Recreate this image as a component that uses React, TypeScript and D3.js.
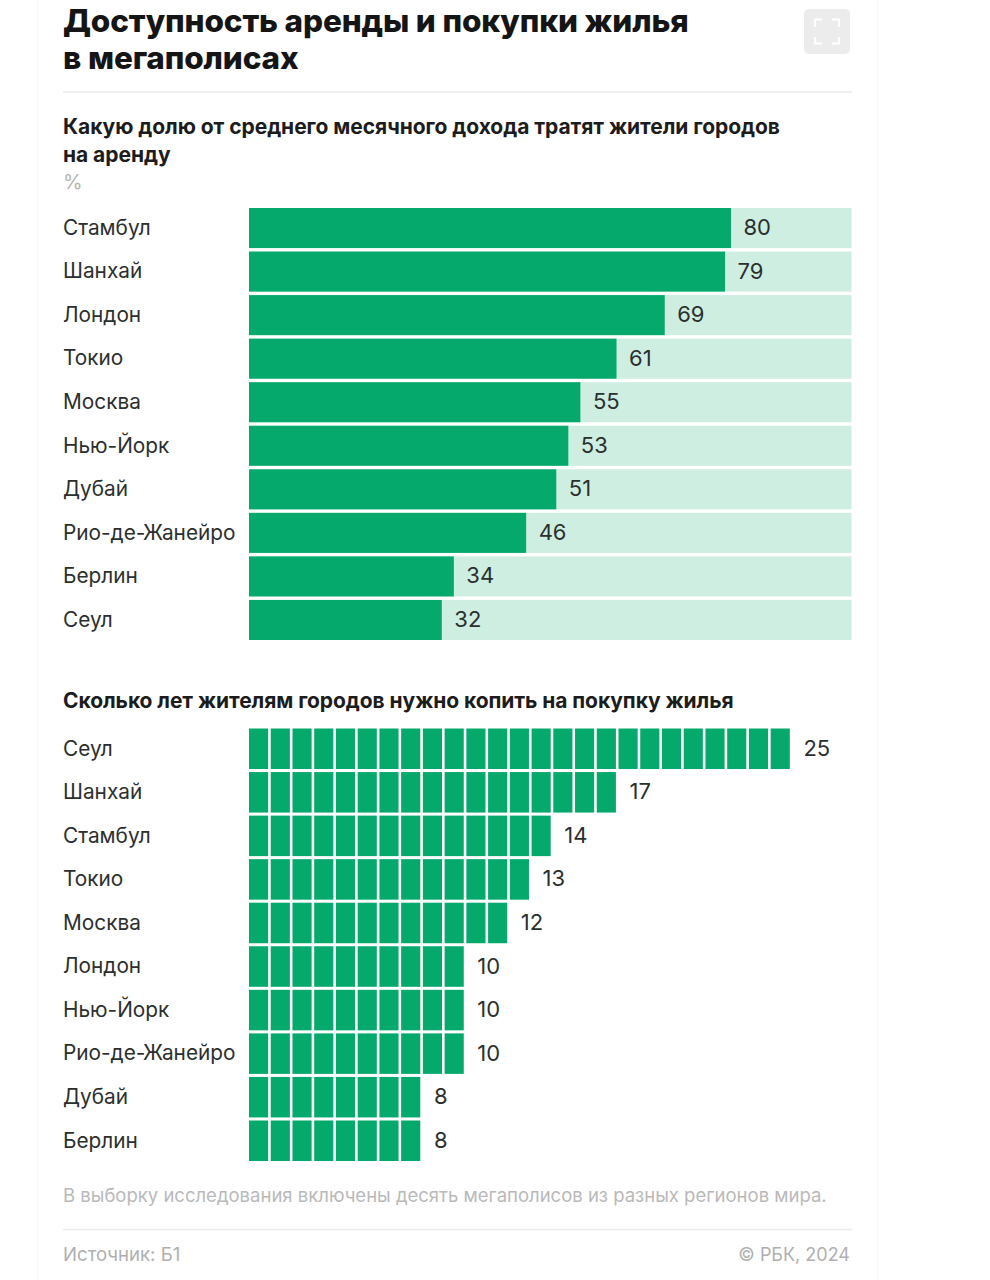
import React from "react";
import * as d3 from "d3";

const rentCities = ["Стамбул", "Шанхай", "Лондон", "Токио", "Москва", "Нью-Йорк", "Дубай", "Рио-де-Жанейро", "Берлин", "Сеул"];
const rentValues = [80, 79, 69, 61, 55, 53, 51, 46, 34, 32];
const saveCities = ["Сеул", "Шанхай", "Стамбул", "Токио", "Москва", "Лондон", "Нью-Йорк", "Рио-де-Жанейро", "Дубай", "Берлин"];
const saveValues = [25, 17, 14, 13, 12, 10, 10, 10, 8, 8];

const FONT = "Inter, 'Noto Sans', sans-serif";
const GREEN = "#04a96b";
const PALE = "#cdeee1";
const INK = "#2b2f2e";

export default function App() {
  const xRent = d3.scaleLinear().domain([0, 100]).range([249, 851.5]);
  const yRent = d3.scaleBand<string>().domain(rentCities).range([208, 640]).paddingInner(0.08);
  const xSave = d3.scaleLinear().domain([0, 25]).range([249, 792.4]);
  const ySave = d3.scaleBand<string>().domain(saveCities).range([728.5, 1161]).paddingInner(0.07);
  const cellW = xSave(1) - xSave(0) - 2.6;

  return (
    <svg width={990} height={1280} style={{ position: "absolute", left: 0, top: 0, background: "#fff" }} fontFamily={FONT}>
      <line x1={38} x2={38} y1={0} y2={1280} stroke="#f6f6f6" />
      <line x1={878} x2={878} y1={0} y2={1280} stroke="#f4f4f4" />

      <text x={63} y={32} fontSize={31.5} fontWeight={800} letterSpacing={-0.15} fill="#151515">Доступность аренды и покупки жилья</text>
      <text x={63} y={69} fontSize={31.5} fontWeight={800} letterSpacing={-0.15} fill="#151515">в мегаполисах</text>
      <rect x={804} y={9} width={46} height={45} rx={5} fill="#ececec" />
      <path d="M815,27V19.5H822M832,19.5H839V27M839,37V43.5H832M822,43.5H815V37" fill="none" stroke="#fff" strokeWidth={2} />
      <line x1={63} x2={852} y1={92} y2={92} stroke="#ebebeb" strokeWidth={1.5} />

      <text x={63} y={134} fontSize={21} fontWeight={700} letterSpacing={-0.05} fill="#1c1c1c">Какую долю от среднего месячного дохода тратят жители городов</text>
      <text x={63} y={162} fontSize={21} fontWeight={700} letterSpacing={-0.05} fill="#1c1c1c">на аренду</text>
      <text x={63} y={189} fontSize={20} fill="#b5b5b5">%</text>

      {rentCities.map((c, i) => {
        const y = yRent(c)!;
        const h = yRent.bandwidth();
        return (
          <g key={c}>
            <text x={63} y={y + h / 2 + 6.8} fontSize={20.8} fill={INK}>{c}</text>
            <rect x={xRent(0)} y={y} width={xRent(100) - xRent(0)} height={h} fill={PALE} />
            <rect x={xRent(0)} y={y} width={xRent(rentValues[i]) - xRent(0)} height={h} fill={GREEN} />
            <text x={xRent(rentValues[i]) + 12.5} y={y + h / 2 + 7} fontSize={22} fill={INK}>{rentValues[i]}</text>
          </g>
        );
      })}

      <text x={63} y={708} fontSize={21} fontWeight={700} letterSpacing={-0.07} fill="#1c1c1c">Сколько лет жителям городов нужно копить на покупку жилья</text>

      {saveCities.map((c, i) => {
        const y = ySave(c)!;
        const h = ySave.bandwidth();
        return (
          <g key={c}>
            <text x={63} y={y + h / 2 + 6.8} fontSize={20.8} fill={INK}>{c}</text>
            {d3.range(saveValues[i]).map((k) => (
              <rect key={k} x={xSave(k)} y={y} width={cellW} height={h} fill={GREEN} />
            ))}
            <text x={xSave(saveValues[i]) + 11} y={y + h / 2 + 7} fontSize={22} fill={INK}>{saveValues[i]}</text>
          </g>
        );
      })}

      <text x={63} y={1201.5} fontSize={18.5} fill="#b9b9b9">В выборку исследования включены десять мегаполисов из разных регионов мира.</text>
      <line x1={63} x2={852} y1={1229.5} y2={1229.5} stroke="#ebebeb" strokeWidth={1.5} />
      <text x={63} y={1261} fontSize={18.6} fill="#b0b0b0">Источник: Б1</text>
      <text x={850} y={1261} fontSize={18} fill="#b0b0b0" textAnchor="end">© РБК, 2024</text>
    </svg>
  );
}
